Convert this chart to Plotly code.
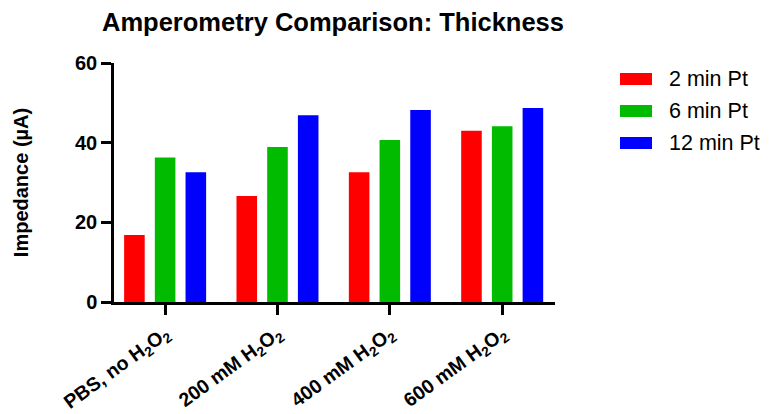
import plotly.graph_objects as go

categories = ["PBS, no H<sub>2</sub>O<sub>2</sub>", "200 mM H<sub>2</sub>O<sub>2</sub>",
              "400 mM H<sub>2</sub>O<sub>2</sub>", "600 mM H<sub>2</sub>O<sub>2</sub>"]
series_names = ["2 min Pt", "6 min Pt", "12 min Pt"]
vals_2min = [16.8, 26.6, 32.6, 43.0]
vals_6min = [36.3, 38.9, 40.7, 44.1]
vals_12min = [32.6, 46.9, 48.2, 48.7]
colors = ["#ff0000", "#00bb00", "#0000ff"]
yticks = [0, 20, 40, 60]

W, H = 775, 414
ML, MR, MT, MB = 114, 220, 63, 112
pw, ph = W - ML - MR, H - MT - MB

FONT = "Liberation Sans, Arial, sans-serif"

fig = go.Figure()
for name, vals, col in zip(series_names, [vals_2min, vals_6min, vals_12min], colors):
    fig.add_trace(go.Bar(x=list(range(len(categories))), y=vals, name=name,
                         marker=dict(color=col, line=dict(width=0)), showlegend=False))

# manual legend
rows_y = [79, 111, 143]
for name, col, ry in zip(series_names, colors, rows_y):
    x0 = (620 - ML) / pw
    x1 = (652 - ML) / pw
    y0 = 1 - (ry - 6 - MT) / ph
    y1 = 1 - (ry + 6 - MT) / ph
    fig.add_shape(type="rect", xref="paper", yref="paper", x0=x0, x1=x1, y0=y0, y1=y1,
                  fillcolor=col, line=dict(width=0))
    fig.add_annotation(xref="paper", yref="paper", x=(667 - ML) / pw, y=1 - (ry - MT) / ph,
                       text=name, showarrow=False, xanchor="left", yanchor="middle",
                       font=dict(family=FONT, size=21.5, color="#000"))

fig.update_layout(
    width=W, height=H,
    margin=dict(l=ML, r=MR, t=MT, b=MB),
    paper_bgcolor="white", plot_bgcolor="white",
    barmode="group", bargap=0.18, bargroupgap=0.33,
    title=dict(text="<b>Amperometry Comparison: Thickness</b>", x=333 / W, xanchor="center",
               y=1 - 22 / H, yanchor="middle",
               font=dict(family=FONT, size=25.5, color="#000")),
    xaxis=dict(range=[-0.455, 3.47], tickmode="array", tickvals=list(range(len(categories))),
               ticktext=["<b>" + c + "</b>" for c in categories], tickangle=-36,
               showline=True, linecolor="#000", linewidth=2.5, ticks="outside", ticklen=10,
               tickwidth=2.5, tickcolor="#000", showgrid=False, zeroline=False, automargin=False,
               tickfont=dict(family=FONT, size=19.5, color="#000")),
    yaxis=dict(range=[0, 60], tickvals=yticks, showline=True, linecolor="#000", linewidth=2.5,
               ticks="outside", ticklen=10, tickwidth=2.5, tickcolor="#000", showgrid=False,
               zeroline=False, automargin=False,
               tickfont=dict(family=FONT, size=20, color="#000", weight="bold"),
               title=dict(text="<b>Impedance (µA)</b>", standoff=42,
                          font=dict(family=FONT, size=20, color="#000"))),
)
fig.write_html("out.html")
